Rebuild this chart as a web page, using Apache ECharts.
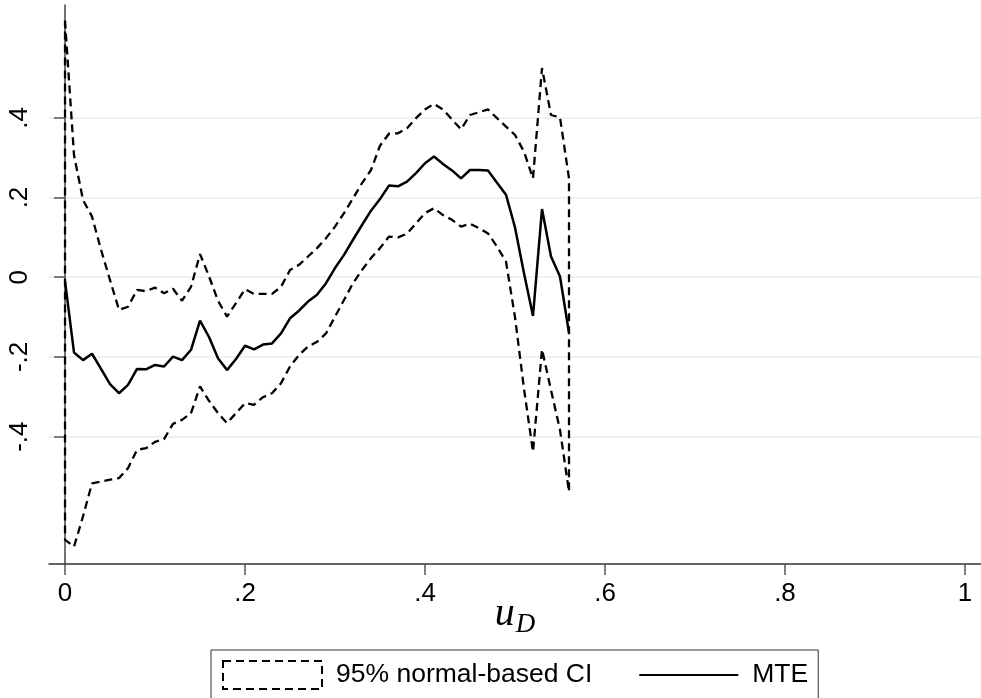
<!DOCTYPE html>
<html>
<head>
<meta charset="utf-8">
<script src="https://cdn.jsdelivr.net/npm/echarts@6/dist/echarts.min.js"></script>
<style>html,body{margin:0;padding:0;background:#fff;}#c{width:981px;height:698px;}</style>
</head>
<body>
<div id="c"></div>
<script>
const uValues = [0,0.01,0.02,0.03,0.04,0.05,0.06,0.07,0.08,0.09,0.10,0.11,0.12,0.13,0.14,0.15,0.16,0.17,0.18,0.19,0.20,0.21,0.22,0.23,0.24,0.25,0.26,0.27,0.28,0.29,0.30,0.31,0.32,0.33,0.34,0.35,0.36,0.37,0.38,0.39,0.40,0.41,0.42,0.43,0.44,0.45,0.46,0.47,0.48,0.49,0.50,0.51,0.52,0.53,0.54,0.55,0.56];
const mte = [-0.010,-0.189,-0.208,-0.192,-0.230,-0.268,-0.291,-0.270,-0.230,-0.231,-0.220,-0.224,-0.199,-0.208,-0.182,-0.109,-0.150,-0.203,-0.233,-0.205,-0.172,-0.181,-0.169,-0.166,-0.141,-0.103,-0.084,-0.061,-0.044,-0.015,0.023,0.056,0.094,0.131,0.167,0.196,0.230,0.228,0.240,0.261,0.286,0.303,0.284,0.268,0.248,0.269,0.269,0.268,0.237,0.207,0.125,0.010,-0.097,0.171,0.052,0.002,-0.140];
const ciUpper = [0.644,0.306,0.194,0.152,0.069,-0.007,-0.082,-0.074,-0.032,-0.035,-0.026,-0.040,-0.029,-0.059,-0.024,0.058,0.002,-0.059,-0.099,-0.065,-0.030,-0.042,-0.042,-0.042,-0.024,0.018,0.031,0.052,0.073,0.098,0.127,0.161,0.198,0.236,0.269,0.330,0.360,0.361,0.374,0.399,0.421,0.435,0.421,0.396,0.371,0.407,0.414,0.421,0.399,0.378,0.357,0.315,0.248,0.525,0.407,0.401,0.248];
const ciLower = [-0.659,-0.676,-0.600,-0.517,-0.513,-0.508,-0.504,-0.479,-0.433,-0.429,-0.413,-0.406,-0.368,-0.358,-0.341,-0.274,-0.310,-0.341,-0.366,-0.341,-0.316,-0.320,-0.301,-0.291,-0.266,-0.224,-0.195,-0.174,-0.162,-0.141,-0.099,-0.057,-0.015,0.018,0.048,0.073,0.102,0.100,0.109,0.135,0.161,0.173,0.156,0.144,0.127,0.134,0.123,0.110,0.077,0.039,-0.100,-0.280,-0.438,-0.181,-0.283,-0.383,-0.538];
const xTickValues = [0,0.2,0.4,0.6,0.8,1];
const xTickLabels = ['0','.2','.4','.6','.8','1'];
const yTickValues = [-0.4,-0.2,0,0.2,0.4];
const yTickLabels = ['-.4','-.2','0','.2','.4'];
const seriesNames = ['95% normal-based CI','MTE'];

// closed outline of the CI band (upper forward, lower backward)
const ciOutline = [];
for (let i = 0; i < uValues.length; i++) ciOutline.push([uValues[i], ciUpper[i]]);
for (let i = uValues.length - 1; i >= 0; i--) ciOutline.push([uValues[i], ciLower[i]]);
ciOutline.push([uValues[0], ciUpper[0]]);
const mteData = uValues.map((u, i) => [u, mte[i]]);

function lookup(vals, labels, v) {
  for (let i = 0; i < vals.length; i++) if (Math.abs(vals[i] - v) < 1e-9) return labels[i];
  return '';
}

const chart = echarts.init(document.getElementById('c'), null, {renderer: 'canvas'});
chart.setOption({
  animation: false,
  backgroundColor: '#fff',
  textStyle: {fontFamily: 'Liberation Sans, Arial, sans-serif'},
  grid: {left: 49, right: 0, top: 5, bottom: 134, containLabel: false},
  xAxis: {
    type: 'value', min: -0.0178, max: 1.0178,
    axisLine: {onZero: false, lineStyle: {color: '#333', width: 1.5}},
    axisTick: {customValues: xTickValues, length: 11, lineStyle: {color: '#555', width: 1.5}},
    axisLabel: {customValues: xTickValues, formatter: v => lookup(xTickValues, xTickLabels, v), fontSize: 26, color: '#000', margin: 17},
    splitLine: {show: false},
    name: '{u|u}{d|D}',
    nameLocation: 'middle',
    nameMoveOverlap: false,
    nameGap: 27,
    nameTextStyle: {
      rich: {
        u: {fontFamily: 'Liberation Serif', fontStyle: 'italic', fontSize: 40, color: '#000'},
        d: {fontFamily: 'Liberation Serif', fontStyle: 'italic', fontSize: 27, color: '#000', padding: [20, 0, 0, 1]}
      }
    }
  },
  yAxis: {
    type: 'value', min: -0.7195, max: 0.683,
    axisLine: {show: true, lineStyle: {color: '#444', width: 1.5}},
    axisTick: {show: true, customValues: yTickValues, length: 11, lineStyle: {color: '#555', width: 1.5}},
    axisLabel: {customValues: yTickValues, formatter: v => lookup(yTickValues, yTickLabels, v), fontSize: 26, color: '#000', rotate: 90, margin: 16},
    splitLine: {show: true, lineStyle: {color: '#e4edf1', width: 1.5}}
  },
  legend: {
    left: 211, top: 650,
    orient: 'horizontal',
    padding: [10, 10, 9, 11],
    borderColor: '#333', borderWidth: 1,
    itemWidth: 99, itemHeight: 28, itemGap: 47,
    textStyle: {fontSize: 26.5, color: '#000', fontFamily: 'Liberation Sans, Arial, sans-serif', padding: [0, 0, 0, 9]},
    selectedMode: false,
    data: [
      {name: seriesNames[0], icon: 'rect', itemStyle: {color: 'rgba(0,0,0,0)', borderColor: '#000', borderWidth: 2, borderType: [8, 5]}},
      {name: seriesNames[1], icon: 'path://M0,0H100V2H0Z', itemStyle: {color: '#000', borderWidth: 0}}
    ]
  },
  series: [
    {
      name: seriesNames[0], type: 'line', data: ciOutline, symbol: 'none', silent: true,
      lineStyle: {color: '#000', width: 2.3, type: [8, 5]}, itemStyle: {color: '#000'}, z: 2
    },
    {
      name: seriesNames[1], type: 'line', data: mteData, symbol: 'none', silent: true,
      lineStyle: {color: '#000', width: 2.5}, itemStyle: {color: '#000'}, z: 3
    }
  ]
});
</script>
</body>
</html>
